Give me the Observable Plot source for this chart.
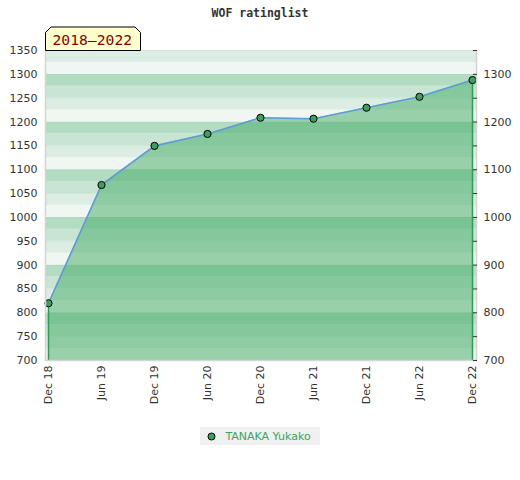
<!DOCTYPE html>
<html>
<head>
<meta charset="utf-8">
<script src="https://cdn.jsdelivr.net/npm/d3@7"></script>
<script src="https://cdn.jsdelivr.net/npm/@observablehq/plot@0.6"></script>
<style>
  body { margin: 0; background: #fff; width: 520px; height: 480px; overflow: hidden; }
  #title { height: 26px; box-sizing: border-box; padding-top: 6px; line-height: 14px; text-align: center; font: bold 11.5px "DejaVu Sans Mono", monospace; color: #333; }
  #chart svg { display: block; }
  #legend { display: flex; justify-content: center; margin-top: 17px; }
  #legend .box { display: flex; align-items: center; background: #f0f0f0; height: 18px; padding: 0 9px 0 6.5px; font: 11px "DejaVu Sans", sans-serif; color: #3aa55d; }
  #legend svg { margin-right: 9.5px; }
</style>
</head>
<body>
<div id="title">WOF ratinglist</div>
<div id="chart"></div>
<div id="legend"></div>
<script>
const periods = ["Dec 18","Jun 19","Dec 19","Jun 20","Dec 20","Jun 21","Dec 21","Jun 22","Dec 22"];
const ratings = [820, 1068, 1150, 1175, 1209, 1207, 1230, 1253, 1288];
const yTicks = [700, 750, 800, 850, 900, 950, 1000, 1050, 1100, 1150, 1200, 1250, 1300, 1350];
const yRightLabels = [700, 800, 900, 1000, 1100, 1200, 1300];
const playerName = "TANAKA Yukako";
const rangeLabel = "2018–2022";

const data = periods.map((p, i) => ({period: p, rating: ratings[i]}));
const yMin = yTicks[0], yMax = yTicks[yTicks.length - 1];

// background stripes (25-point bands, 4-colour cycle)
const stripeColors = ["#dcede3", "#f0f7f2", "#b3dcc3", "#c7e5d2"];
const stripes = d3.range(yMin, yMax, 25).map(lo => ({
  lo, hi: lo + 25, color: stripeColors[Math.round((yMax - (lo + 25)) / 25) % 4]
}));

const green = "#3ba05d";
const lineBlue = "#5d9cd8";
const fmt = d => String(d);

function borders(index, scales, values, dims) {
  const {width, height, marginLeft, marginRight, marginTop, marginBottom} = dims;
  const g = d3.create("svg:g");
  g.append("path")
    .attr("d", `M${marginLeft - 0.5},${marginTop}V${height - marginBottom + 0.5}H${width - marginRight + 0.5}V${marginTop}`)
    .attr("fill", "none").attr("stroke", "#d4d4d4").attr("stroke-width", 1.5);
  return g.node();
}

function tag(index, scales, values, dims) {
  const {marginLeft, marginTop} = dims;
  const x0 = marginLeft - 0.5, x1 = marginLeft + 94.5, y0 = marginTop - 23, y1 = marginTop + 0.5, c = 5.5;
  const g = d3.create("svg:g");
  g.append("path")
    .attr("d", `M${x0},${y1}V${y0 + c}L${x0 + c},${y0}H${x1 - c}L${x1},${y0 + c}V${y1}Z`)
    .attr("fill", "#ffffcc").attr("stroke", "#000").attr("stroke-width", 1);
  g.append("text")
    .attr("x", marginLeft + 6.5).attr("y", marginTop - 5)
    .attr("text-anchor", "start")
    .attr("fill", "#8b0000")
    .attr("font-family", "DejaVu Sans Mono, monospace")
    .attr("font-size", 14.7)
    .text(rangeLabel);
  return g.node();
}

const chart = Plot.plot({
  width: 520,
  height: 384,
  marginTop: 24,
  marginBottom: 50,
  marginLeft: 46,
  marginRight: 44,
  style: {fontFamily: "DejaVu Sans, sans-serif", fontSize: "11px", color: "#333", background: "transparent", overflow: "visible"},
  x: {type: "point", domain: periods, padding: 0, insetLeft: 1.5, insetRight: 3.5, label: null},
  y: {domain: [yMin, yMax], label: null},
  color: {type: "identity"},
  marks: [
    Plot.rect(stripes, {y1: "lo", y2: "hi", fill: "color"}),
    Plot.ruleY(yTicks, {stroke: "#000", strokeOpacity: 0.035}),
    Plot.areaY(data, {x: "period", y1: yMin, y2: "rating", fill: "rgb(72,174,105)", fillOpacity: 0.525}),
    Plot.ruleX([data[0], data[data.length - 1]], {x: "period", y1: yMin, y2: "rating", stroke: "#2f9c56", strokeWidth: 1.5}),
    Plot.line(data, {x: "period", y: "rating", stroke: lineBlue, strokeWidth: 1.6}),
    Plot.dot(data, {x: "period", y: "rating", r: 3.6, fill: green, stroke: "#000", strokeWidth: 1}),
    borders,
    tag,
    Plot.axisX({tickRotate: -90, tickSize: 0, tickPadding: 5, label: null}),
    Plot.axisY({anchor: "left", ticks: yTicks, tickSize: 0, tickPadding: 9, tickFormat: fmt, label: null}),
    Plot.axisY({anchor: "right", ticks: yTicks, tickSize: 4, dx: -4, tickFormat: () => "", label: null}),
    Plot.axisY({anchor: "right", ticks: yRightLabels, tickSize: 0, tickPadding: 7, tickFormat: fmt, label: null})
  ]
});
document.getElementById("chart").appendChild(chart);

// legend
const box = d3.select("#legend").append("div").attr("class", "box");
const sw = box.append("svg").attr("width", 9).attr("height", 9);
sw.append("circle").attr("cx", 4.5).attr("cy", 4.5).attr("r", 3.5).attr("fill", green).attr("stroke", "#000").attr("stroke-width", 1);
box.append("span").text(playerName);
</script>
</body>
</html>
